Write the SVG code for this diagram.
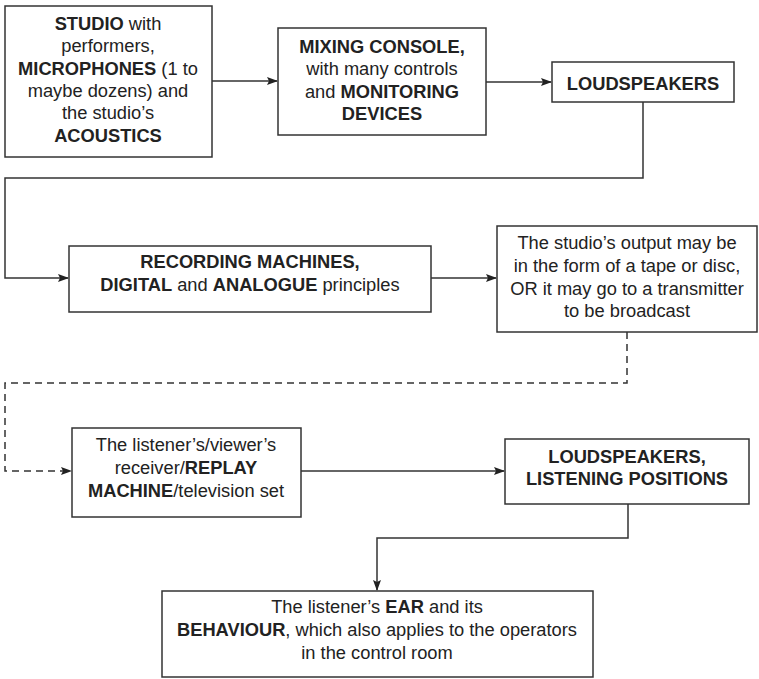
<svg xmlns="http://www.w3.org/2000/svg" width="759" height="679" viewBox="0 0 759 679">
<style>
.box{fill:#fff;stroke:#333;stroke-width:1.5}
.t{font-family:"Liberation Sans",Arial,sans-serif;font-size:18.3px;fill:#222;text-anchor:middle}
.b{font-weight:bold}
.c{fill:none;stroke:#333;stroke-width:1.5}
.d{stroke-dasharray:7,5}
</style>
<defs>
<marker id="ah" markerWidth="11" markerHeight="8" refX="10" refY="4" orient="auto" markerUnits="userSpaceOnUse">
<path d="M0,0 L11,4 L0,8 L2,4 Z" fill="#222"/>
</marker>
</defs>
<rect width="759" height="679" fill="#fff"/>
<g id="connectors">
<path class="c" d="M212,81 H277" marker-end="url(#ah)"/>
<path class="c" d="M486,82 H551" marker-end="url(#ah)"/>
<path class="c" d="M643,102 V178 H5 V278 H68" marker-end="url(#ah)"/>
<path class="c" d="M431,278 H496" marker-end="url(#ah)"/>
<path class="c d" d="M627,332 V383 H5 V471 H71" marker-end="url(#ah)"/>
<path class="c" d="M301,471 H504" marker-end="url(#ah)"/>
<path class="c" d="M628,504 V538 H377 V590" marker-end="url(#ah)"/>
</g>
<g id="studio">
<rect class="box" x="5" y="6" width="207" height="151"/>
<text class="t" x="108" y="30"><tspan class="b">STUDIO</tspan> with</text>
<text class="t" x="108" y="52">performers,</text>
<text class="t" x="108" y="75"><tspan class="b">MICROPHONES</tspan> (1 to</text>
<text class="t" x="108" y="97">maybe dozens) and</text>
<text class="t" x="108" y="119">the studio’s</text>
<text class="t b" x="108" y="142">ACOUSTICS</text>
</g>
<g id="mixing">
<rect class="box" x="278" y="28" width="208" height="107"/>
<text class="t b" x="382" y="53">MIXING CONSOLE,</text>
<text class="t" x="382" y="75">with many controls</text>
<text class="t" x="382" y="98">and <tspan class="b">MONITORING</tspan></text>
<text class="t b" x="382" y="120">DEVICES</text>
</g>
<g id="loudspeakers1">
<rect class="box" x="552" y="62" width="182" height="40"/>
<text class="t b" x="643" y="90">LOUDSPEAKERS</text>
</g>
<g id="recording">
<rect class="box" x="69" y="246" width="362" height="66"/>
<text class="t b" x="250" y="268">RECORDING MACHINES,</text>
<text class="t" x="250" y="291"><tspan class="b">DIGITAL</tspan> and <tspan class="b">ANALOGUE</tspan> principles</text>
</g>
<g id="output">
<rect class="box" x="497" y="226" width="260" height="106"/>
<text class="t" x="627" y="249">The studio’s output may be</text>
<text class="t" x="627" y="272">in the form of a tape or disc,</text>
<text class="t" x="627" y="295">OR it may go to a transmitter</text>
<text class="t" x="627" y="317">to be broadcast</text>
</g>
<g id="receiver">
<rect class="box" x="72" y="428" width="229" height="89"/>
<text class="t" x="186" y="451">The listener’s/viewer’s</text>
<text class="t" x="186" y="474">receiver/<tspan class="b">REPLAY</tspan></text>
<text class="t" x="186" y="497"><tspan class="b">MACHINE</tspan>/television set</text>
</g>
<g id="loudspeakers2">
<rect class="box" x="505" y="439" width="244" height="65"/>
<text class="t b" x="627" y="463">LOUDSPEAKERS,</text>
<text class="t b" x="627" y="485">LISTENING POSITIONS</text>
</g>
<g id="ear">
<rect class="box" x="162" y="591" width="431" height="86"/>
<text class="t" x="377" y="613">The listener’s <tspan class="b">EAR</tspan> and its</text>
<text class="t" x="377" y="636"><tspan class="b">BEHAVIOUR</tspan>, which also applies to the operators</text>
<text class="t" x="377" y="659">in the control room</text>
</g>
</svg>
